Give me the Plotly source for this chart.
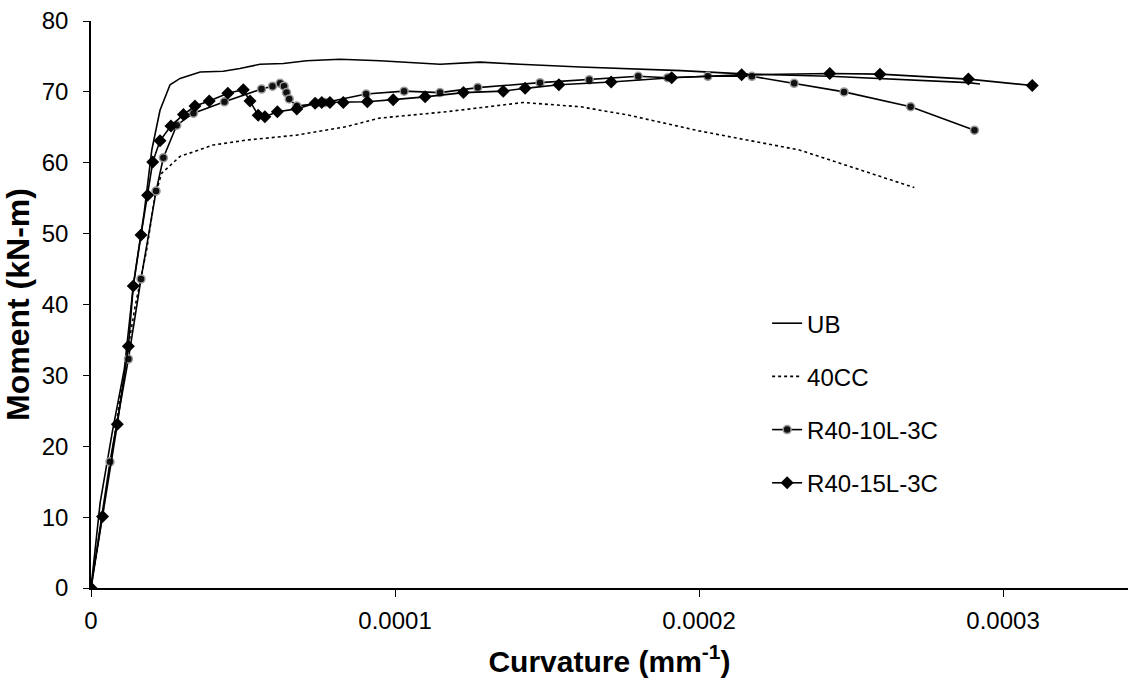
import plotly.graph_objects as go

# ---- data (curvature in 1/mm, moment in kN-m) ----
ub_x = [0, 3e-6, 7e-6, 1.1e-5, 1.4e-5, 1.75e-5, 2.0e-5, 2.27e-5, 2.6e-5, 2.93e-5, 3.59e-5,
        4.35e-5, 4.9e-5, 5.56e-5, 6.33e-5, 7.09e-5, 8.19e-5, 9.5e-5, 1.148e-4, 1.28e-4,
        1.41e-4, 1.61e-4, 1.94e-4, 2.16e-4, 2.43e-4, 2.6e-4, 2.886e-4, 2.924e-4]
ub_y = [0, 12, 22, 31, 43, 53, 61.8, 67.4, 71.0, 71.9, 72.8, 72.9, 73.3, 73.9, 74.0, 74.4,
        74.6, 74.4, 73.9, 74.2, 73.9, 73.5, 73.0, 72.5, 72.2, 71.9, 71.3, 71.1]

cc_x = [0, 6.25e-6, 1.06e-5, 1.45e-5, 1.83e-5, 2.1e-5, 2.32e-5, 2.93e-5, 4.02e-5, 5.12e-5,
        6.77e-5, 8.41e-5, 9.5e-5, 1.17e-4, 1.422e-4, 1.61e-4, 1.77e-4, 2.0e-4, 2.33e-4, 2.708e-4]
cc_y = [0, 17.1, 29.8, 39.7, 47.7, 55.2, 58.5, 60.9, 62.5, 63.2, 63.9, 65.1, 66.3, 67.2,
        68.5, 67.9, 66.7, 64.5, 61.8, 56.5]

r10_x = [0, 6.25e-6, 1.23e-5, 1.645e-5, 2.14e-5, 2.38e-5, 2.82e-5, 3.37e-5, 4.39e-5, 5.61e-5,
         5.97e-5, 6.22e-5, 6.35e-5, 6.43e-5, 6.52e-5, 6.77e-5, 7.4e-5, 7.7e-5, 9.05e-5,
         1.03e-4, 1.148e-4, 1.272e-4, 1.477e-4, 1.639e-4, 1.80e-4, 1.897e-4, 2.029e-4,
         2.174e-4, 2.313e-4, 2.477e-4, 2.696e-4, 2.906e-4]
r10_y = [0, 17.8, 32.3, 43.6, 56.0, 60.7, 65.3, 67.0, 68.6, 70.4, 70.8, 71.2, 70.8, 69.9,
         69.0, 68.0, 68.4, 68.5, 69.7, 70.1, 69.9, 70.6, 71.3, 71.7, 72.2, 72.0, 72.2, 72.2,
         71.2, 70.0, 67.9, 64.6]

r15_x = [0, 3.8e-6, 8.65e-6, 1.23e-5, 1.39e-5, 1.645e-5, 1.86e-5, 2.03e-5, 2.27e-5, 2.63e-5,
         3.04e-5, 3.42e-5, 3.89e-5, 4.5e-5, 5.01e-5, 5.23e-5, 5.5e-5, 5.72e-5, 6.13e-5,
         6.77e-5, 7.37e-5, 7.59e-5, 7.86e-5, 8.3e-5, 9.09e-5, 9.94e-5, 1.099e-4, 1.225e-4,
         1.356e-4, 1.428e-4, 1.539e-4, 1.711e-4, 1.91e-4, 2.14e-4, 2.43e-4, 2.595e-4,
         2.886e-4, 3.096e-4]
r15_y = [0, 10.1, 23.1, 34.1, 42.6, 49.8, 55.4, 60.1, 63.1, 65.2, 66.8, 68.0, 68.7, 69.8,
         70.3, 68.7, 66.7, 66.5, 67.2, 67.6, 68.4, 68.5, 68.5, 68.5, 68.6, 68.9, 69.3, 69.9,
         70.1, 70.5, 71.0, 71.4, 72.0, 72.4, 72.6, 72.5, 71.8, 70.9]

x_ticks = [0, 0.0001, 0.0002, 0.0003]
x_tick_labels = ["0", "0.0001", "0.0002", "0.0003"]
y_ticks = [0, 10, 20, 30, 40, 50, 60, 70, 80]

FONT = "Arial, Liberation Sans, sans-serif"

fig = go.Figure()
fig.add_trace(go.Scatter(x=ub_x, y=ub_y, mode="lines", name="UB",
                         line=dict(color="black", width=1.6), legendgroup="a"))
fig.add_trace(go.Scatter(x=cc_x, y=cc_y, mode="lines", name="40CC",
                         line=dict(color="black", width=1.6, dash="dot"), legendgroup="b"))
fig.add_trace(go.Scatter(x=r10_x, y=r10_y, mode="lines+markers", name="R40-10L-3C",
                         line=dict(color="black", width=1.6),
                         marker=dict(symbol="circle", size=8, color="#111111",
                                     line=dict(color="#9a9a9a", width=1.5)),
                         legendgroup="c"))
fig.add_trace(go.Scatter(x=r15_x, y=r15_y, mode="lines+markers", name="R40-15L-3C",
                         line=dict(color="black", width=1.6),
                         marker=dict(symbol="diamond", size=10, color="black"),
                         legendgroup="d"))

fig.update_layout(
    width=1128, height=678,
    margin=dict(l=91, r=0, t=21, b=90),
    paper_bgcolor="white", plot_bgcolor="white",
    font=dict(family=FONT, size=24, color="black"),
    showlegend=True,
    legend=dict(x=0.652, y=0.506, xanchor="left", yanchor="top",
                font=dict(family=FONT, size=24, color="black"),
                tracegroupgap=19, itemwidth=30, bgcolor="rgba(0,0,0,0)"),
    xaxis=dict(range=[0, 0.0003411], tickvals=x_ticks, ticktext=x_tick_labels,
               showgrid=False, zeroline=False, showline=True, linecolor="black",
               linewidth=1.5, ticks="outside", ticklen=7, tickcolor="black",
               tickfont=dict(size=24), automargin=False, ticklabelstandoff=3,
               title=dict(text="<b>Curvature (mm<sup>-1</sup>)</b>",
                          font=dict(size=30), standoff=22)),
    yaxis=dict(range=[0, 80], tickvals=y_ticks, showgrid=False, zeroline=False,
               showline=True, linecolor="black", linewidth=1.5, ticks="outside",
               ticklen=6, tickcolor="black", tickfont=dict(size=24), automargin=False,
               ticklabelstandoff=10,
               title=dict(text="<b>Moment (kN-m)</b>", font=dict(size=32), standoff=6)),
)

fig.write_html("out.html", config={"displayModeBar": False},
               post_script="document.body.style.margin='0';document.body.style.overflow='hidden';")
